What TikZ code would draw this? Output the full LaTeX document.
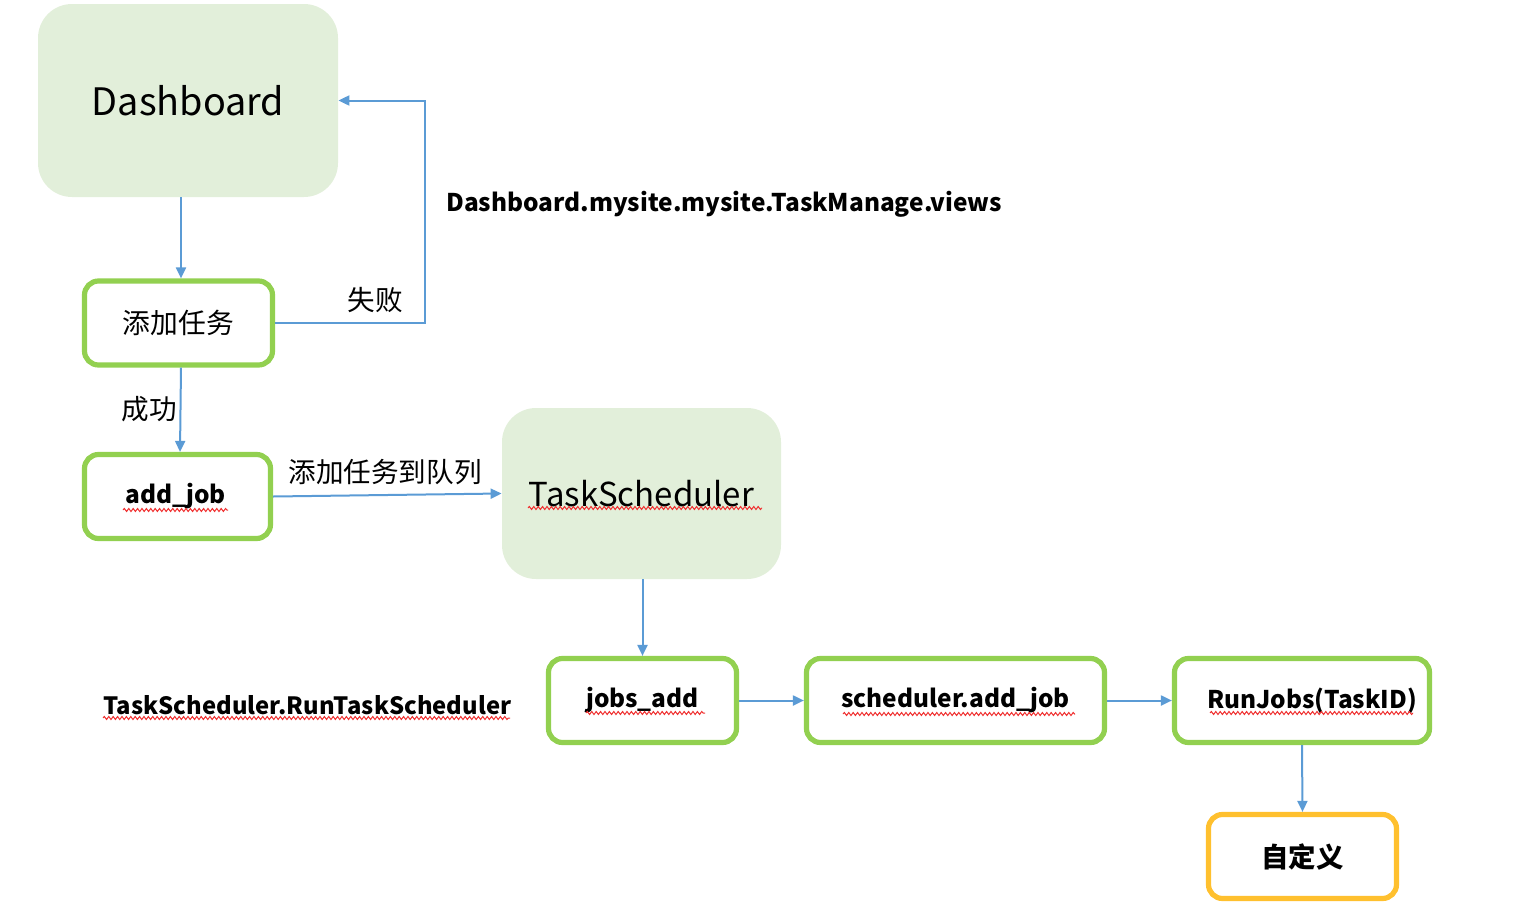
\documentclass[tikz,border=0pt]{standalone}
\usepackage{fontspec}
\setmainfont{Noto Sans CJK SC}
\usetikzlibrary{arrows.meta,decorations.pathmorphing}
\definecolor{boxgreen}{HTML}{E2EFDA}
\definecolor{edgegreen}{HTML}{92D050}
\definecolor{edgeorange}{HTML}{FFC02E}
\definecolor{arrowblue}{HTML}{5B9BD5}
\definecolor{squigred}{HTML}{F03030}
\tikzset{
  bigbox/.style={fill=boxgreen, draw=none, rounded corners=17pt, inner sep=0pt},
  stepbox/.style={draw=edgegreen, line width=2.6pt, rounded corners=7pt, fill=white,
     minimum width=94pt, minimum height=42pt, inner sep=0pt, font=\fontsize{12.2}{14}\selectfont\bfseries},
  custombox/.style={stepbox, draw=edgeorange, font=\fontsize{13.7}{16}\selectfont\bfseries},
  arr/.style={draw=arrowblue, line width=1pt, -{Triangle[length=5.5pt,width=5pt]}},
  cjklabel/.style={font=\fontsize{13.8}{16}\selectfont, inner sep=0pt},
  codelabel/.style={font=\fontsize{12.2}{14}\selectfont\bfseries, inner sep=0pt},
  squig/.style={draw=squigred, line width=0.5pt, decorate,
     decoration={snake, segment length=2.2pt, amplitude=0.75pt}}
}
\begin{document}
\begin{tikzpicture}[x=0.5pt,y=-0.5pt]
\useasboundingbox (0,0) rectangle (1528,916);

% boxes
\node[bigbox, minimum width=150pt, minimum height=96.5pt,
      font=\fontsize{18.9}{22}\selectfont] (dash) at (188,100.5) {Dashboard};
\node[stepbox, font=\fontsize{13.9}{16}\selectfont] (add) at (178.5,323) {添加任务};
\node[stepbox, minimum width=93pt] (addjob) at (177.5,496.5) {\hspace*{-2pt}add\_job};
\node[bigbox, minimum width=139.5pt, minimum height=85.5pt,
      font=\fontsize{16.5}{20}\selectfont] (ts) at (641.5,493.5) {TaskScheduler};
\node[stepbox] (jobs) at (642.5,700.5) {jobs\_add};
\node[stepbox, minimum width=149pt] (sched) at (955.5,700.5) {scheduler.add\_job};
\node[stepbox, minimum width=127.5pt] (run) at (1302,700.5) {\hspace*{10pt}RunJobs(TaskID)};
\node[custombox] (custom) at (1302.5,856.5) {自定义};

% free labels
\node[cjklabel] (fail) at (375,300) {失败};
\node[cjklabel] (ok) at (149,409) {成功};
\node[cjklabel] (queue) at (385,472) {添加任务到队列};
\node[codelabel, anchor=west] (views) at (446,204) {Dashboard.mysite.mysite.TaskManage.views};
\node[codelabel, anchor=west, font=\fontsize{11.9}{14}\selectfont\bfseries] (runts) at (103,705) {TaskScheduler.RunTaskScheduler};

% connectors
\coordinate (fc) at (425,0);
\draw[arr] ([xshift=1.25pt]add.north |- dash.south) -- ([xshift=1.25pt]add.north);
\draw[arr] (add.east) -| (fc |- dash.east) -- (dash.east);
\draw[arr] ([xshift=1.25pt]add.south) -- ([xshift=1.25pt]addjob.north);
\draw[arr] (addjob.east) -- (ts.west);
\draw[arr] (jobs.north |- ts.south) -- (jobs.north);
\draw[arr] (jobs.east) -- (sched.west);
\draw[arr] (sched.east) -- (run.west);
\draw[arr] (run.south) -- (custom.north);

% spell-check squiggles
\draw[squig] (123,510) -- (228,510);
\draw[squig] (528,508) -- (762,508);
\draw[squig] (586,713) -- (705,713);
\draw[squig] (843,714) -- (1075,714);
\draw[squig] (1210,713) -- (1413,713);
\draw[squig] (103,718) -- (510,718);
\end{tikzpicture}
\end{document}
